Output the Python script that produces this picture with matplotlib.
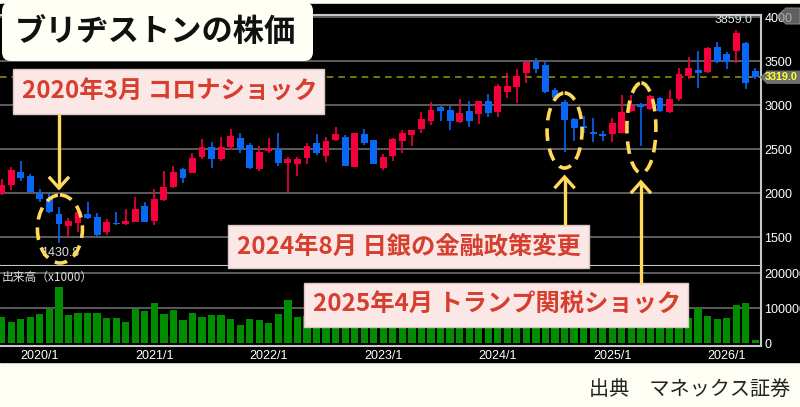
import numpy as np
import pandas as pd
import matplotlib
matplotlib.use("Agg")
import matplotlib.pyplot as plt
from matplotlib.patches import Rectangle, FancyBboxPatch, Ellipse, Polygon

# monthly candles, 2019/9 .. 2026/4
months = pd.date_range("2019-09-01", periods=80, freq="MS")
opens = [2000, 2094, 2239, 2197, 2000, 1935, 1768, 1628, 1666, 1765,
         1727, 1557, 1666, 1648, 1677, 1859, 1689, 1924, 2075, 2273,
         2234, 2409, 2523, 2386, 2523, 2632, 2549, 2276, 2481, 2500,
         2348, 2333, 2404, 2575, 2427, 2605, 2636, 2302, 2674, 2605,
         2291, 2424, 2598, 2663, 2727, 2825, 2977, 2947, 2814, 2935,
         2898, 3052, 2920, 3148, 3205, 3364, 3495, 3458, 3174, 3041,
         2841, 2768, 2693, 2671, 2671, 2689, 2934, 3011, 2955, 3079,
         2920, 3068, 3330, 3405, 3383, 3659, 3580, 3613, 3704, 3386]
highs = [2160, 2302, 2367, 2220, 2045, 2007, 1848, 1716, 1810, 1897,
         1780, 1705, 1784, 1818, 1961, 1905, 2045, 2253, 2314, 2291,
         2454, 2617, 2586, 2643, 2730, 2682, 2568, 2541, 2632, 2682,
         2416, 2416, 2568, 2674, 2643, 2750, 2662, 2690, 2727, 2610,
         2446, 2632, 2719, 2720, 2920, 3041, 2995, 2995, 3072, 3052,
         3052, 3125, 3242, 3364, 3412, 3495, 3534, 3489, 3193, 3060,
         2852, 2878, 2852, 2708, 2852, 3117, 3113, 3023, 3117, 3091,
         3174, 3427, 3552, 3616, 3663, 3723, 3602, 3859, 3723, 3420]
lows = [1980, 2037, 2143, 2010, 1905, 1773, 1430.8, 1507, 1564, 1708,
        1520, 1526, 1645, 1640, 1670, 1670, 1640, 1916, 2057, 2120,
        2227, 2386, 2291, 2367, 2492, 2461, 2280, 2257, 2454, 2314,
        2007, 2200, 2333, 2435, 2352, 2598, 2305, 2295, 2549, 2330,
        2264, 2371, 2455, 2541, 2689, 2780, 2825, 2720, 2802, 2757,
        2788, 2864, 2870, 3086, 3023, 3257, 3364, 3140, 3049, 2473,
        2598, 2689, 2586, 2598, 2586, 2689, 2920, 2541, 2950, 2920,
        2916, 3049, 3303, 3196, 3371, 3484, 3409, 3476, 3182, 3300]
closes = [2095, 2264, 2170, 2018, 1939, 1791, 1648, 1685, 1784, 1716,
          1526, 1677, 1648, 1689, 1822, 1677, 1932, 2075, 2239, 2170,
          2398, 2523, 2386, 2529, 2651, 2500, 2291, 2473, 2511, 2348,
          2386, 2386, 2541, 2461, 2598, 2674, 2314, 2682, 2568, 2333,
          2416, 2614, 2682, 2719, 2841, 2947, 2935, 2822, 2916, 2822,
          3049, 2909, 3223, 3223, 3333, 3488, 3409, 3148, 3086, 2833,
          2739, 2739, 2671, 2655, 2795, 2920, 2997, 2985, 3109, 2939,
          3068, 3356, 3421, 3364, 3655, 3495, 3489, 3818, 3257, 3319]
volumes = [74000, 62000, 69000, 76000, 83000, 98000, 160000, 81000, 86000, 86000,
           86000, 72000, 72000, 62000, 98000, 92000, 116000, 84000, 95000, 67000,
           86000, 74000, 81000, 81000, 69000, 53000, 69000, 67000, 58000, 84000,
           123000, 74000, 78000, 70000, 82000, 66000, 88000, 95000, 72000, 85000,
           80000, 76000, 70000, 68000, 84000, 90000, 72000, 78000, 80000, 74000,
           83000, 79000, 92000, 88000, 86000, 81000, 72000, 96000, 85000, 110000,
           82000, 70000, 76000, 68000, 80000, 86000, 78000, 120000, 84000, 75000,
           70000, 88000, 72000, 102000, 78000, 70000, 72000, 109000, 116000, 9000]
price_ticks = [1500, 2000, 2500, 3000, 3500, 4000]
vol_ticks = [0, 100000, 200000]
last_price = 3319.0

title = "ブリヂストンの株価"
events = [
    ("2020年3月 コロナショック", "2020-03"),
    ("2024年8月 日銀の金融政策変更", "2024-08"),
    ("2025年4月 トランプ関税ショック", "2025-04"),
]
source = "出典　マネックス証券"

UP = "#F5003C"
DOWN = "#0A66F5"
VOL = "#008E00"
YEL = "#FFD95A"
RED_TXT = "#D63F2E"
JP = ["Noto Sans CJK JP", "DejaVu Sans"]
NUM = ["Liberation Sans", "DejaVu Sans"]

W, H = 800, 407
fig = plt.figure(figsize=(W / 100, H / 100), dpi=100)
fig.patch.set_facecolor("#FFFEF4")
fig.patches.append(Rectangle((0, 1 - 362 / H), 1, (362 - 4) / H,
                             transform=fig.transFigure, color="black", zorder=-5))


def box(top, bottom):
    return [0, 1 - bottom / H, 761 / W, (bottom - top) / H]


x = np.arange(len(months))
xlim = (-1.7 / 9.54, (761 - 1.7) / 9.54)

# price panel
ax = fig.add_axes(box(15, 266))
ax.set_facecolor("black")
ax.set_xlim(*xlim)
ax.set_ylim(1174, 4026)
for p in price_ticks:
    ax.axhline(p, color="#5C5C5C", lw=1.4, zorder=1)
ax.axhline(last_price, color="#8C8C00", lw=1.2, ls=(0, (4, 3)), zorder=1)
o, h, l, c = map(np.array, (opens, highs, lows, closes))
cols = [UP if cc >= oo else DOWN for oo, cc in zip(o, c)]
ax.vlines(x, l, h, colors=cols, lw=1.2, zorder=2)
ax.bar(x, np.maximum(np.abs(c - o), 12), bottom=np.minimum(o, c),
       width=0.72, color=cols, zorder=3)
ax.yaxis.tick_right()
ax.set_yticks(price_ticks)
ax.set_yticklabels([str(p) for p in price_ticks], family=NUM, fontsize=9,
                   color="white")
ax.tick_params(axis="y", length=0, pad=2.5)
ax.set_xticks([])
ax.spines["left"].set_visible(False)
for s in ("top", "right", "bottom"):
    ax.spines[s].set_color("#C8C8C8")
    ax.spines[s].set_linewidth(1.5)

imax = int(np.argmax(h))
imin = int(np.argmin(l))
ax.annotate(f"{h[imax]:.1f}", (x[imax], h[imax]), xytext=(-2, 7),
            textcoords="offset points", ha="center", va="center",
            family=NUM, fontsize=9, color="#DDDDDD")
ax.annotate(f"{l[imin]:.1f}", (x[imin], l[imin]), xytext=(1, -7),
            textcoords="offset points", ha="center", va="center",
            family=NUM, fontsize=9, color="#DDDDDD", zorder=6)

# volume panel
av = fig.add_axes(box(266, 346))
av.set_facecolor("black")
av.set_xlim(*xlim)
av.set_ylim(-7700, 221000)
for v in vol_ticks[1:]:
    av.axhline(v, color="#5C5C5C", lw=1.4, zorder=1)
av.bar(x, volumes, width=0.76, color=VOL, zorder=2)
av.yaxis.tick_right()
av.set_yticks(vol_ticks)
av.set_yticklabels([str(v) for v in vol_ticks], family=NUM, fontsize=9,
                   color="white")
jan = [i for i, m in enumerate(months) if m.month == 1]
av.set_xticks(jan)
av.set_xticklabels([f"{months[i].year}/1" for i in jan], family=NUM,
                   fontsize=9, color="white")
av.tick_params(axis="y", length=0, pad=2.5)
av.tick_params(axis="x", length=0, pad=3)
av.spines["left"].set_visible(False)
av.spines["top"].set_visible(False)
for s in ("right", "bottom"):
    av.spines[s].set_color("#C8C8C8")
    av.spines[s].set_linewidth(1.5)
av.text(0.002, 0.86, "出来高（x1000）", transform=av.transAxes, family=JP,
        fontsize=8.5, color="#DDDDDD", va="center")

# overlay in pixel units
ov = fig.add_axes([0, 0, 1, 1], zorder=10)
ov.set_xlim(0, W)
ov.set_ylim(H, 0)
ov.axis("off")
ov.patch.set_alpha(0)


def px(i):
    return ax.transData.transform((i, 0))[0]


def py(p):
    return H - ax.transData.transform((0, p))[1]


# current price tag and top marker
yp = py(last_price)
ov.add_patch(Polygon([(761, yp), (767, yp - 6), (800, yp - 6), (800, yp + 6),
                      (767, yp + 6)], closed=True, color="#6E6E6E"))
ov.text(765, yp, f"{last_price:.1f}", family=NUM, fontsize=7.8, color="#FFFF33",
        fontweight="bold", va="center")
ov.add_patch(Polygon([(777, 16), (786, 8), (800, 8), (800, 24), (786, 24)],
                     closed=True, color="#8A8A8A", alpha=0.7))


def arrow(xc, y0, y1):
    ov.plot([xc, xc], [y0, y1], color=YEL, lw=2.4, solid_capstyle="butt")
    d = 10 if y1 > y0 else -10
    ov.plot([xc - 9, xc, xc + 9], [y1 - d, y1, y1 - d], color=YEL, lw=2.4,
            solid_joinstyle="miter")


def ring(xc, yc, w, hgt):
    ov.add_patch(Ellipse((xc, yc), w, hgt, fill=False, ec=YEL, lw=2.6,
                         ls=(0, (3.5, 2.2))))


idx = {m.strftime("%Y-%m"): i for i, m in enumerate(months)}
e0, e1, e2 = (idx[d] for _, d in events)

ring(px(e0) + 1, 229, 45, 68)
ring(px(e1), 130.5, 35, 75)
ring(px(e2) + 0.5, 128, 29, 90)
arrow(px(e0), 114, 188)
arrow(px(e1), 226, 177)
arrow(px(e2), 284, 182)

# title box
ov.add_patch(FancyBboxPatch((2, 2), 311, 59, boxstyle="round,pad=0,rounding_size=9",
                            fc="#FFFFF6", ec="none"))
ov.text(15, 32, title, family=JP, fontsize=22.5, fontweight="bold",
        color="#111111", va="center")

# event labels
for (label, _), (x0, y0, x1, y1) in zip(events, [(13, 69, 324, 114),
                                                 (228, 225, 589, 268),
                                                 (304, 283, 688, 327)]):
    ov.add_patch(Rectangle((x0, y0), x1 - x0, y1 - y0, fc="#FCE7E7",
                           ec="#DCC6C6", lw=1))
    ov.text(x0 + 9, (y0 + y1) / 2, label, family=JP, fontsize=17.5,
            fontweight="bold", color=RED_TXT, va="center")

ov.text(790, 390, source, family=JP, fontsize=14.5, color="#222222",
        ha="right", va="center")

fig.savefig("out.png", dpi=100, facecolor=fig.get_facecolor())
